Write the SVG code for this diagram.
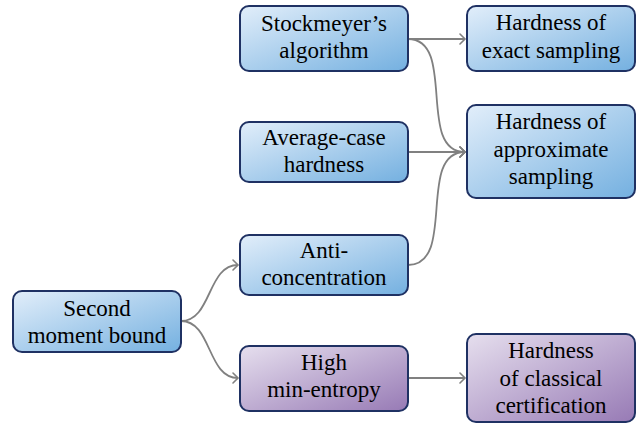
<svg xmlns="http://www.w3.org/2000/svg" width="644" height="424" viewBox="0 0 644 424">
<defs>
<linearGradient id="gb" x1="0" y1="0" x2="1" y2="1">
<stop offset="0" stop-color="#e2eefa"/>
<stop offset="1" stop-color="#74b0e0"/>
</linearGradient>
<linearGradient id="gp" x1="0" y1="0" x2="1" y2="1">
<stop offset="0" stop-color="#e6dfee"/>
<stop offset="1" stop-color="#977ab5"/>
</linearGradient>
<marker id="ar" viewBox="-6 -6 8 12" markerWidth="8" markerHeight="12" refX="0" refY="0" orient="auto" markerUnits="userSpaceOnUse">
<path d="M-5,-5 Q-1,-1 0,0 Q-1,1 -5,5" fill="none" stroke="#808080" stroke-width="1.6" stroke-linecap="round"/>
</marker>
</defs>
<g id="connectors" fill="none" stroke="#808080" stroke-width="1.8" marker-end="url(#ar)">
<path d="M408,39 L465,39"/>
<path d="M408,39 C457,39 416,152 465,152"/>
<path d="M408,152 L465,152"/>
<path d="M408,265 C457,265 416,152 465,152"/>
<path d="M181,321 C212,321 207,265 238,265"/>
<path d="M181,321 C212,321 207,378 238,378"/>
<path d="M408,378 L465,378"/>
</g>
<g id="stockmeyer">
<rect x="240" y="6" width="168" height="65" rx="9" fill="url(#gb)" stroke="#1f3163" stroke-width="2"/>
<text x="324" y="31" font-family="Liberation Serif" font-size="23" text-anchor="middle">Stockmeyer’s</text>
<text x="324" y="58" font-family="Liberation Serif" font-size="23" text-anchor="middle">algorithm</text>
</g>
<g id="average">
<rect x="240" y="122" width="168" height="60" rx="9" fill="url(#gb)" stroke="#1f3163" stroke-width="2"/>
<text x="324" y="145" font-family="Liberation Serif" font-size="23" text-anchor="middle">Average-case</text>
<text x="324" y="172" font-family="Liberation Serif" font-size="23" text-anchor="middle">hardness</text>
</g>
<g id="anti">
<rect x="240" y="235" width="168" height="60" rx="9" fill="url(#gb)" stroke="#1f3163" stroke-width="2"/>
<text x="324" y="258" font-family="Liberation Serif" font-size="23" text-anchor="middle">Anti-</text>
<text x="324" y="285" font-family="Liberation Serif" font-size="23" text-anchor="middle">concentration</text>
</g>
<g id="second">
<rect x="13" y="291" width="168" height="61" rx="9" fill="url(#gb)" stroke="#1f3163" stroke-width="2"/>
<text x="97" y="316" font-family="Liberation Serif" font-size="23" text-anchor="middle">Second</text>
<text x="97" y="343" font-family="Liberation Serif" font-size="23" text-anchor="middle">moment bound</text>
</g>
<g id="minentropy">
<rect x="240" y="346" width="168" height="65" rx="9" fill="url(#gp)" stroke="#1f3163" stroke-width="2"/>
<text x="324" y="370" font-family="Liberation Serif" font-size="23" text-anchor="middle">High</text>
<text x="324" y="397" font-family="Liberation Serif" font-size="23" text-anchor="middle">min-entropy</text>
</g>
<g id="exact">
<rect x="467" y="6" width="168" height="65" rx="9" fill="url(#gb)" stroke="#1f3163" stroke-width="2"/>
<text x="551" y="30" font-family="Liberation Serif" font-size="23" text-anchor="middle">Hardness of</text>
<text x="551" y="58" font-family="Liberation Serif" font-size="23" text-anchor="middle">exact sampling</text>
</g>
<g id="approx">
<rect x="467" y="105" width="168" height="93" rx="9" fill="url(#gb)" stroke="#1f3163" stroke-width="2"/>
<text x="551" y="129" font-family="Liberation Serif" font-size="23" text-anchor="middle">Hardness of</text>
<text x="551" y="157" font-family="Liberation Serif" font-size="23" text-anchor="middle">approximate</text>
<text x="551" y="184" font-family="Liberation Serif" font-size="23" text-anchor="middle">sampling</text>
</g>
<g id="classical">
<rect x="467" y="334" width="168" height="88" rx="9" fill="url(#gp)" stroke="#1f3163" stroke-width="2"/>
<text x="551" y="358" font-family="Liberation Serif" font-size="23" text-anchor="middle">Hardness</text>
<text x="551" y="386" font-family="Liberation Serif" font-size="23" text-anchor="middle">of classical</text>
<text x="551" y="413" font-family="Liberation Serif" font-size="23" text-anchor="middle">certification</text>
</g>
</svg>
